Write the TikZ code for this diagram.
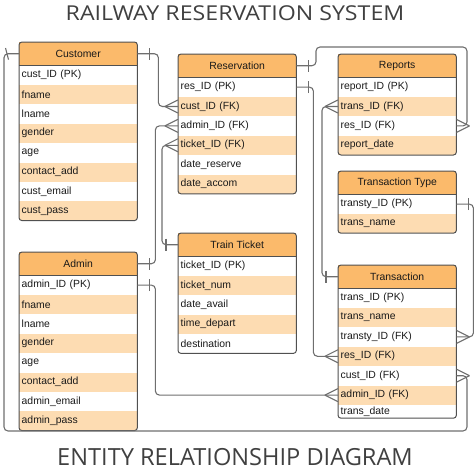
\documentclass[tikz,border=0pt]{standalone}
\usepackage{fontspec}
\setmainfont{Liberation Sans}
\newfontfamily\titlefont[FakeStretch=1.13]{Open Sans}
\newfontfamily\subtitlefont{Open Sans}
\usepackage{xcolor}
\usepackage{tikz}
\usetikzlibrary{positioning}
\usetikzlibrary{decorations.markings}

\definecolor{hdrorange}{HTML}{FBBA6B}
\definecolor{roworange}{HTML}{FDDCB2}
\definecolor{boxgray}{HTML}{505050}
\definecolor{linegray}{HTML}{6E6E6E}

\tikzset{
  hdr/.style={anchor=north west, fill=hdrorange, minimum width=118pt, minimum height=23pt, inner sep=0pt, font=\fontsize{10.4}{12}\selectfont, text=black!90},
  fld/.style={text width=113pt, inner xsep=2.5pt, inner ysep=0pt, minimum height=19pt, align=left, font=\fontsize{10.4}{12}\selectfont, text=black!90},
  fldw/.style={fld, fill=white},
  fldo/.style={fld, fill=roworange},
  frame/.style={draw=boxgray, line width=1pt, rounded corners=3pt},
  rel/.style={draw=linegray, line width=1.1pt, rounded corners=4pt, postaction=decorate,
    decoration={markings,
      mark=at position 12pt with {\draw[draw=linegray, line width=1.1pt, sharp corners] (0,-6pt) -- (0,6pt);},
      mark=at position -0.1pt with {\draw[draw=linegray, line width=1.1pt, sharp corners] (-13pt,0) -- (0,-6.5pt) (-13pt,0) -- (0,6.5pt);}}},
  ttl/.style={font=\titlefont\fontsize{20.5}{22}\selectfont, text=black!75},
  subttl/.style={font=\subtitlefont\fontsize{23.6}{25}\selectfont, text=black!75}
}

\begin{document}
\begin{tikzpicture}[x=1pt,y=-1pt]

\useasboundingbox (0,0) rectangle (474,474);

% titles
\node[ttl] (top) at (235,13.4) {RAILWAY RESERVATION SYSTEM};
\node[subttl] (bottom) at (235,457) {ENTITY RELATIONSHIP DIAGRAM};

% customer
\node[hdr] (cust) at (19,42) {Customer};
\node[fldw, below=0pt of cust] (cust1) {cust\_ID (PK)};
\node[fldo, below=0pt of cust1] (cust2) {fname};
\node[fldw, below=0pt of cust2] (cust3) {lname};
\node[fldo, below=0pt of cust3] (cust4) {gender};
\node[fldw, below=0pt of cust4] (cust5) {age};
\node[fldo, below=0pt of cust5] (cust6) {contact\_add};
\node[fldw, below=0pt of cust6] (cust7) {cust\_email};
\node[fldo, below=0pt of cust7] (cust8) {cust\_pass};
\draw[frame] (cust.north west) rectangle (cust8.south east);
\draw[frame] (cust.south west) -- (cust.south east);

% admin
\node[hdr] (adm) at (19,252) {Admin};
\node[fldw, below=0pt of adm] (adm1) {admin\_ID (PK)};
\node[fldo, below=0pt of adm1] (adm2) {fname};
\node[fldw, below=0pt of adm2] (adm3) {lname};
\node[fldo, below=0pt of adm3] (adm4) {gender};
\node[fldw, below=0pt of adm4] (adm5) {age};
\node[fldo, below=0pt of adm5] (adm6) {contact\_add};
\node[fldw, below=0pt of adm6] (adm7) {admin\_email};
\node[fldo, below=0pt of adm7] (adm8) {admin\_pass};
\draw[frame] (adm.north west) rectangle (adm8.south east);
\draw[frame] (adm.south west) -- (adm.south east);

% reservation
\node[hdr] (res) at (178,54) {Reservation};
\node[fldw, below=0pt of res] (res1) {res\_ID (PK)};
\node[fldo, below=0pt of res1] (res2) {cust\_ID (FK)};
\node[fldw, below=0pt of res2] (res3) {admin\_ID (FK)};
\node[fldo, below=0pt of res3] (res4) {ticket\_ID (FK)};
\node[fldw, below=0pt of res4] (res5) {date\_reserve};
\node[fldo, below=0pt of res5] (res6) {date\_accom};
\draw[frame] (res.north west) rectangle (res6.south east);
\draw[frame] (res.south west) -- (res.south east);

% train ticket
\node[hdr] (tt) at (178,233) {Train Ticket};
\node[fldw, below=0pt of tt] (tt1) {ticket\_ID (PK)};
\node[fldo, below=0pt of tt1] (tt2) {ticket\_num};
\node[fldw, below=0pt of tt2] (tt3) {date\_avail};
\node[fldo, below=0pt of tt3] (tt4) {time\_depart};
\node[fldw, below=0pt of tt4] (tt5) {destination};
\draw[frame] (tt.north west) rectangle (tt5.south east);
\draw[frame] (tt.south west) -- (tt.south east);

% reports
\node[hdr] (rep) at (338,54) {Reports};
\node[fldw, below=0pt of rep] (rep1) {report\_ID (PK)};
\node[fldo, below=0pt of rep1] (rep2) {trans\_ID (FK)};
\node[fldw, below=0pt of rep2] (rep3) {res\_ID (FK)};
\node[fldo, below=0pt of rep3] (rep4) {report\_date};
\draw[frame] (rep.north west) rectangle (rep4.south east);
\draw[frame] (rep.south west) -- (rep.south east);

% transaction type
\node[hdr] (ty) at (338,171) {Transaction Type};
\node[fldw, below=0pt of ty] (ty1) {transty\_ID (PK)};
\node[fldo, below=0pt of ty1] (ty2) {trans\_name};
\draw[frame] (ty.north west) rectangle (ty2.south east);
\draw[frame] (ty.south west) -- (ty.south east);

% transaction
\node[hdr] (tr) at (338,265) {Transaction};
\node[fldw, below=0pt of tr] (tr1) {trans\_ID (PK)};
\node[fldo, below=0pt of tr1] (tr2) {trans\_name};
\node[fldw, below=0pt of tr2] (tr3) {transty\_ID (FK)};
\node[fldo, below=0pt of tr3] (tr4) {res\_ID (FK)};
\node[fldw, below=0pt of tr4] (tr5) {cust\_ID (FK)};
\node[fldo, below=0pt of tr5] (tr6) {admin\_ID (FK)};
\node[fldw, below=0pt of tr6, minimum height=13pt] (tr7) {trans\_date};
\draw[frame] (tr.north west) rectangle (tr7.south east);
\draw[frame] (tr.south west) -- (tr.south east);

%% relations
\draw[rel] (cust.east) -- ++(21,0) |- (res2.west);
\draw[rel] (cust.west) -| (4,431) -- (467,431) |- (tr5.east);
\draw[rel] (adm.east) -- ++(18,0) |- (res3.west);
\draw[rel] (adm1.east) -- ++(18,0) |- (tr6.west);
\draw[rel] (tt.west) -- ++(-16,0) |- (res4.west);
\draw[rel] (res.east) -| (316,47) -- (467,47) |- (rep3.east);
\draw[rel] (res1.east) -- ++(17,0) |- (tr4.west);
\draw[rel] (tr.west) -- ++(-16,0) |- (rep2.west);
\draw[rel] (ty1.east) -- ++(17,0) |- (tr3.east);

\end{tikzpicture}
\end{document}
